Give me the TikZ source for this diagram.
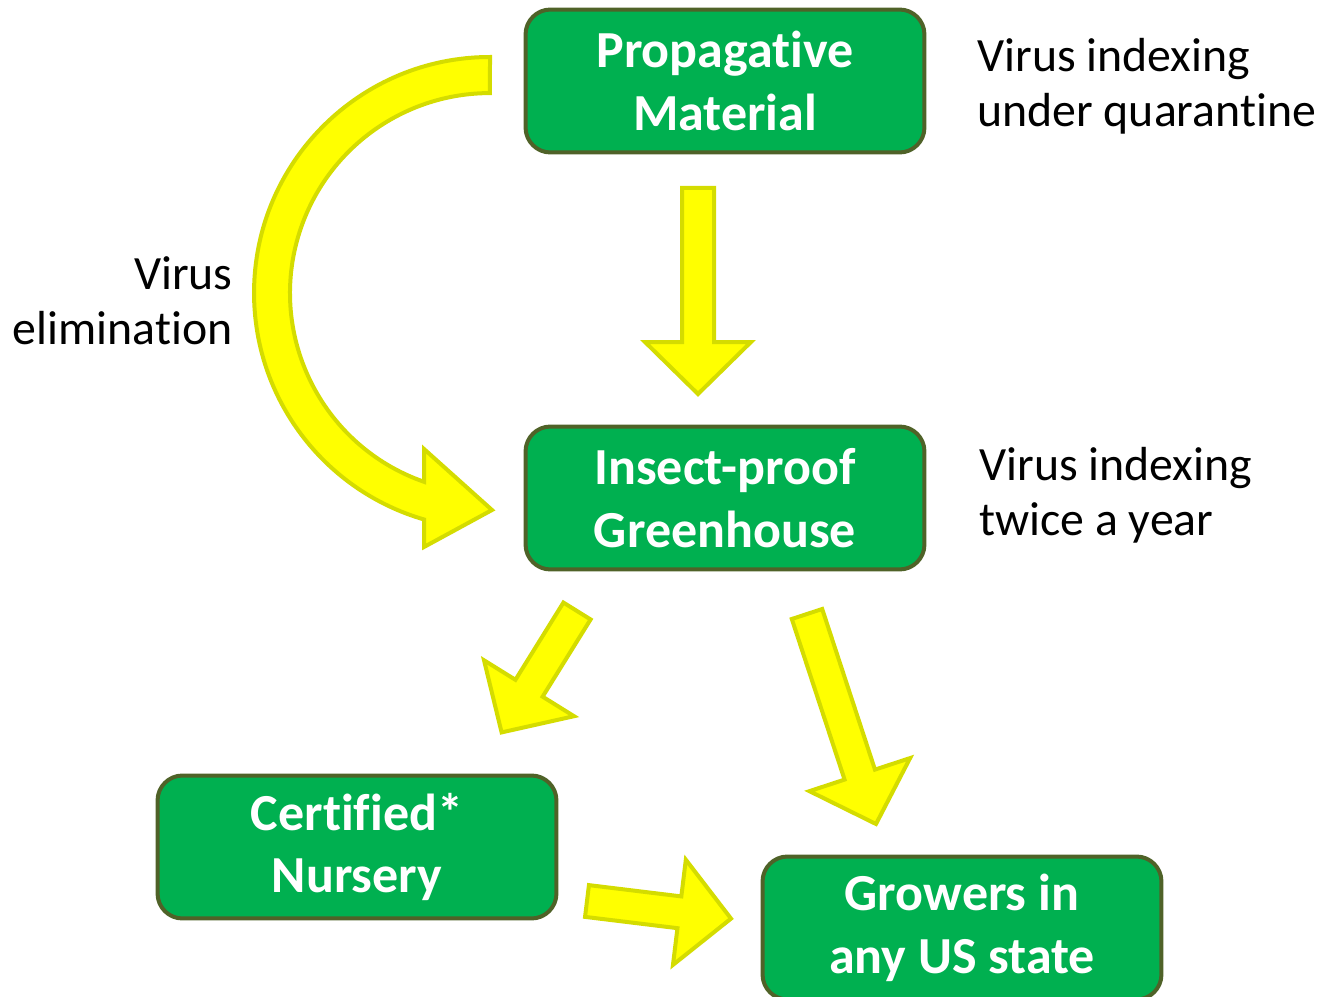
\documentclass[tikz,border=0pt]{standalone}
\usepackage{fontspec}
\setmainfont{Carlito}[Ligatures={NoCommon}]
\usetikzlibrary{calc}

\definecolor{boxgreen}{RGB}{0,176,80}
\definecolor{boxedge}{RGB}{79,98,40}
\definecolor{arrowfill}{RGB}{255,255,0}
\definecolor{arrowedge}{RGB}{212,220,0}

\newcommand{\fatarrow}[2]{%
  \coordinate (hb) at ($(#2)!1.04cm!(#1)$);
  \draw[fat] ($(#1)!.32cm!90:(#2)$) -- ($(hb)!.32cm!-90:(#1)$) -- ($(hb)!1.06cm!-90:(#1)$) -- (#2)
    -- ($(hb)!1.06cm!90:(#1)$) -- ($(hb)!.32cm!90:(#1)$) -- ($(#1)!.32cm!-90:(#2)$) -- cycle;}

\begin{document}
\begin{tikzpicture}[x=0.02cm, y=-0.02cm,
	box/.style={draw=boxedge, line width=0.08cm, fill=boxgreen, rounded corners=0.5cm, minimum width=7.98cm, minimum height=2.86cm, align=center, text=white, font=\fontsize{29.6}{35.5}\selectfont\bfseries},
	note/.style={inner sep=0pt, font=\fontsize{27.2}{31.5}\selectfont},
	fat/.style={draw=arrowedge, fill=arrowfill, line width=0.08cm, line join=miter}]
	\useasboundingbox (0,0) rectangle (1320,997);
	\node[box] (prop) at (725,81) {Propagative\\Material};
	\node[box] (green) at (725,498) {Insect-proof\\Greenhouse};
	\node[box] (nurs) at (357,847) {Certified*\\Nursery};
	\node[box] (grow) at (962,928) {Growers in\\any US state};
	\node[note, anchor=west, align=left] (quar) at (977,86) {Virus indexing\\under quarantine};
	\node[note, anchor=west, align=left] (twice) at (979,495) {Virus indexing\\twice a year};
	\node[note, anchor=east, align=right] (elim) at (233,301) {Virus\\elimination};
	\draw[fat] (490,57) arc[start angle=90, end angle=253.76, radius=4.72cm] -- (424,547) -- (492,510) -- (424,449)
	  -- (424,481.8) arc[start angle=250.73, end angle=90, radius=4cm] -- cycle;
	\coordinate (prop-tail) at (698,188);
	\coordinate (prop-tip) at (698,394);
	\coordinate (nurs-tail) at (577,611);
	\coordinate (nurs-tip) at (501.6,732.4);
	\coordinate (grow-tail) at (807,614);
	\coordinate (grow-tip) at (876,824);
	\coordinate (cert-tail) at (587,901);
	\coordinate (cert-tip) at (731,918.6);
	\fatarrow{prop-tail}{prop-tip}
	\fatarrow{nurs-tail}{nurs-tip}
	\fatarrow{grow-tail}{grow-tip}
	\fatarrow{cert-tail}{cert-tip}
\end{tikzpicture}
\end{document}
